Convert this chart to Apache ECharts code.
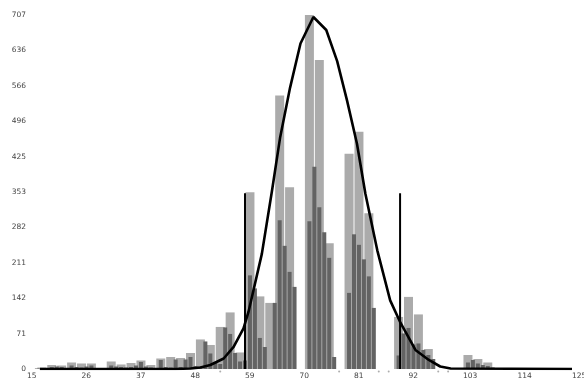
<!DOCTYPE html>
<html>
<head>
<meta charset="utf-8">
<script src="https://cdn.jsdelivr.net/npm/echarts@6/dist/echarts.min.js"></script>
<style>
  html, body { margin: 0; padding: 0; background: #fff; }
  #chart { width: 584px; height: 378px; }
</style>
</head>
<body>
<div id="chart"></div>
<script>
// x axis ticks
const xMin = 15;
const xMax = 125;
const xStep = 11;
// y axis tick labels (as printed)
const yLabels = ["0", "71", "142", "211", "282", "353", "425", "496", "566", "636", "707"];
const yMax = 707;

// wide bins (2 units) - light gray
const lightX = [18, 20, 22, 24, 26, 28, 30, 32, 34, 36, 38, 40, 42, 44, 46, 48, 50, 52, 54, 56, 58,
  60, 62, 64, 66, 68, 72, 74, 76, 80, 82, 84, 90, 92, 94, 96, 104, 106, 108, 110, 120, 122, 124];
const lightY = [3, 8, 7, 13, 11, 11, 2, 15, 9, 12, 17, 8, 21, 24, 22, 32, 59, 48, 84, 113, 33,
  353, 145, 132, 546, 363, 707, 617, 251, 430, 474, 311, 104, 144, 109, 40, 28, 20, 13, 2, 2, 2, 2];

// narrow bins (1 unit) - dark gray
const darkX = [17, 18, 19, 20, 21, 22, 23, 24, 25, 26, 27, 28, 29, 30, 32, 33, 34, 35, 36, 37, 38, 39,
  40, 41, 42, 43, 44, 45, 46, 47, 48, 49, 50, 51, 52, 53, 54, 55, 56, 57, 58, 59,
  60, 61, 62, 63, 65, 66, 67, 68, 69, 72, 73, 74, 75, 76, 77,
  80, 81, 82, 83, 84, 85, 90, 91, 92, 93, 94, 95, 96, 97,
  104, 105, 106, 107, 108, 109, 110, 121, 123];
const darkY = [1, 2, 2, 4, 5, 4, 2, 7, 4, 3, 5, 7, 2, 2, 7, 5, 4, 3, 4, 7, 14, 5,
  3, 2, 18, 4, 3, 19, 4, 19, 24, 6, 5, 55, 31, 12, 10, 83, 70, 32, 15, 17,
  187, 161, 62, 44, 132, 297, 246, 194, 164, 295, 404, 323, 273, 222, 24,
  152, 269, 248, 219, 185, 122, 27, 71, 82, 49, 51, 38, 28, 20,
  13, 18, 11, 8, 6, 3, 1, 1, 1];

// fitted curve
const curveX = [17.6, 45, 48, 50, 52, 54.7, 56.7, 58.7, 59.7, 62.4, 64.4, 66.1, 68.1, 70.2, 72.8,
  75.4, 77.6, 79.6, 81.6, 83.3, 85.7, 88.3, 90.4, 93.4, 96.1, 98.4, 100.5, 125];
const curveY = [0, 0, 1, 3, 8, 21, 44, 81, 114, 230, 353, 463, 562, 650, 703,
  677, 615, 536, 450, 350, 237, 137, 92, 38, 18, 5, 1, 0];

// vertical marker lines
const cutX = [59, 90.3];
const cutTop = 351;

// small marks under empty bins
const gapX = [54, 78, 86, 88, 98, 100];

const chart = echarts.init(document.getElementById("chart"), null, { renderer: "canvas" });

const labelFont = {
  fontFamily: "DejaVu Sans",
  fontSize: 7.5,
  color: "#444",
};

const cutSeries = cutX.map((x) => ({
  type: "line",
  xAxisIndex: 0,
  data: [[x, 0], [x, cutTop]],
  symbol: "none",
  lineStyle: { color: "#000", width: 2 },
  silent: true,
  z: 4,
}));

const option = {
  animation: false,
  grid: { left: 27, right: 12, top: 15, bottom: 9, outerBoundsMode: "none", containLabel: false },
  xAxis: [
    {
      type: "value",
      min: xMin,
      max: xMax,
      interval: xStep,
      axisLine: { show: false },
      axisTick: { show: false },
      splitLine: { show: false },
      axisLabel: { ...labelFont, align: "left", margin: 3, showMaxLabel: true },
    },
    {
      type: "value",
      min: xMin,
      max: xMax,
      show: false,
    },
  ],
  yAxis: {
    type: "value",
    min: 0,
    max: yMax,
    interval: yMax / 10,
    axisLine: { show: false },
    axisTick: { show: false },
    splitLine: { show: false },
    axisLabel: {
      ...labelFont,
      margin: 1,
      formatter: (v, i) => yLabels[i] ?? "",
    },
  },
  series: [
    {
      type: "bar",
      xAxisIndex: 0,
      data: lightX.map((x, i) => [x, lightY[i]]),
      barWidth: 9,
      itemStyle: { color: "#ababab" },
      silent: true,
      z: 2,
    },
    {
      type: "bar",
      xAxisIndex: 1,
      data: darkX.map((x, i) => [x, darkY[i]]),
      barWidth: 4,
      itemStyle: { color: "#636363" },
      silent: true,
      z: 3,
    },
    {
      type: "scatter",
      xAxisIndex: 0,
      data: gapX.map((x) => [x, -5]),
      symbolSize: 2,
      itemStyle: { color: "#999" },
      clip: false,
      silent: true,
      z: 3,
    },
    ...cutSeries,
    {
      type: "line",
      xAxisIndex: 0,
      data: curveX.map((x, i) => [x, curveY[i]]),
      symbol: "none",
      lineStyle: { color: "#000", width: 2.6 },
      silent: true,
      z: 5,
    },
  ],
};

chart.setOption(option);
</script>
</body>
</html>
